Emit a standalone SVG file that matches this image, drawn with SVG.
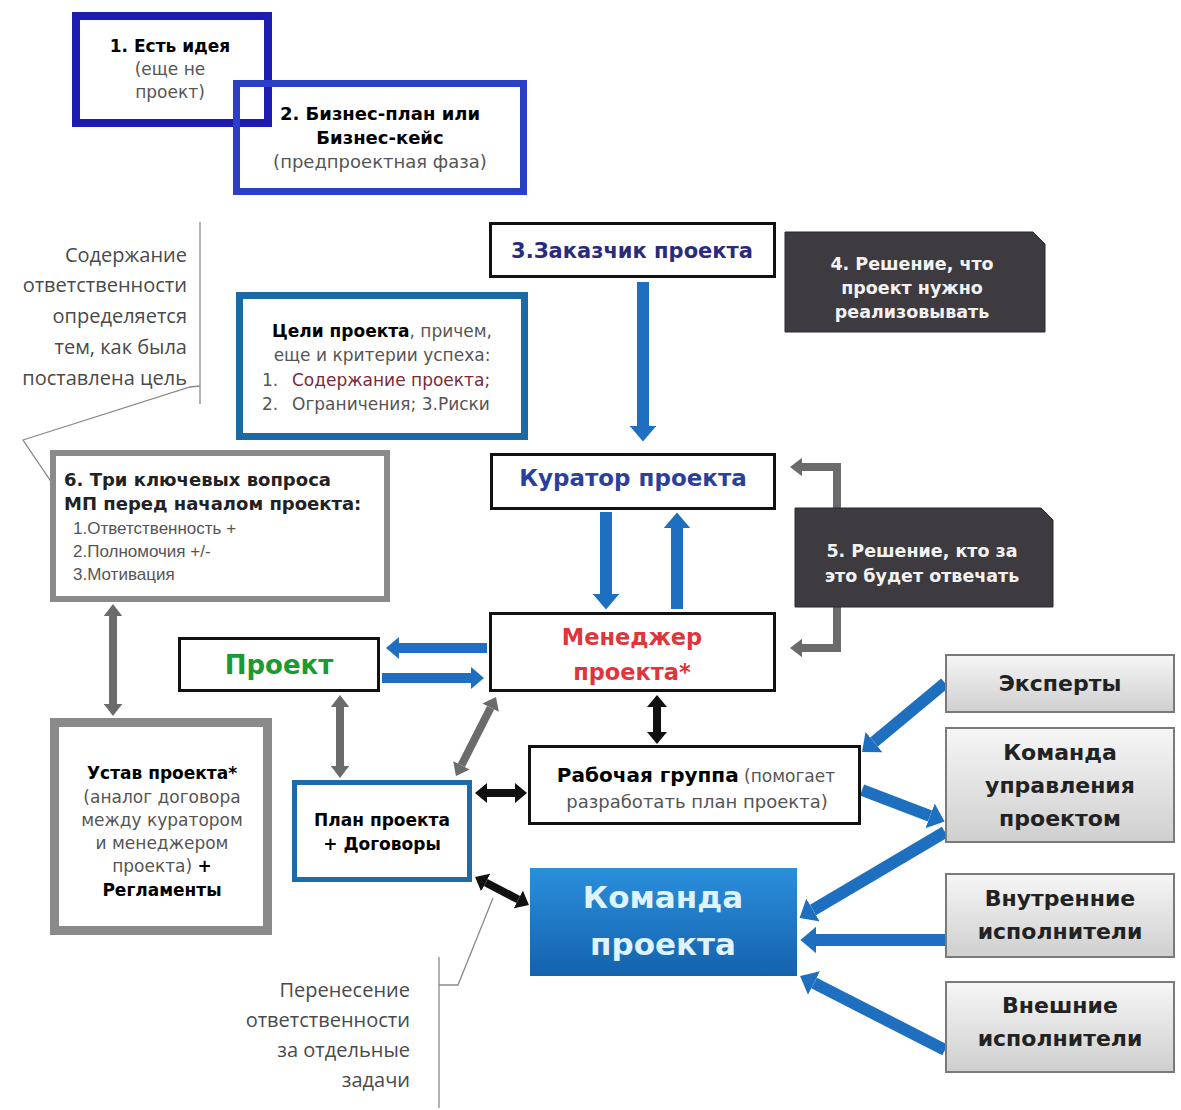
<svg xmlns="http://www.w3.org/2000/svg" width="1181" height="1110" viewBox="0 0 1181 1110">
<style>
text{font-family:"DejaVu Sans","Liberation Sans",Arial,sans-serif;text-anchor:middle}
.l{text-anchor:start}
.b{font-weight:bold}
.g{fill:#555}
.nar{font-family:"Liberation Sans",Arial,sans-serif}
.note{font-family:"Open Sans","Liberation Sans",sans-serif;fill:#4a4a4a;font-size:20px;text-anchor:end}
.box{fill:#fff;stroke:#111;stroke-width:3}
.dark{fill:#3d3b3f;stroke:#2a292c;stroke-width:1}
.dt{fill:#f2f2f2;font-weight:bold;font-size:17.5px}
.side{fill:url(#gg);stroke:#7a7a7a;stroke-width:2}
.st{font-weight:bold;font-size:22px;fill:#222}
.ba{fill:none;stroke:#1e6fbf;stroke-width:12;marker-end:url(#hb)}
.bt{fill:none;stroke:#1e6fbf;stroke-width:10;marker-end:url(#hb)}
.ga{fill:none;stroke:#6b6b6b;stroke-width:8;marker-end:url(#hg);marker-start:url(#hg)}
.ge{fill:none;stroke:#6b6b6b;stroke-width:8;marker-end:url(#hg)}
.ka{fill:none;stroke:#111;stroke-width:8;marker-end:url(#hk);marker-start:url(#hk)}
.cl{fill:none;stroke:#8a8a8a;stroke-width:1.3}
</style>
<defs>
<linearGradient id="gg" x1="0" y1="0" x2="0" y2="1"><stop offset="0" stop-color="#f6f6f6"/><stop offset="1" stop-color="#cfcfcf"/></linearGradient>
<linearGradient id="bg" x1="0" y1="0" x2="0" y2="1"><stop offset="0" stop-color="#2b8fdc"/><stop offset="1" stop-color="#1462ad"/></linearGradient>
<marker id="hb" viewBox="0 0 6 10" refX="0" refY="5" markerWidth="1.3" markerHeight="2.2" preserveAspectRatio="none" orient="auto-start-reverse"><path d="M0,0 L6,5 L0,10 Z" fill="#1e6fbf"/></marker>
<marker id="hg" viewBox="0 0 6 10" refX="0" refY="5" markerWidth="1.5" markerHeight="2.3" preserveAspectRatio="none" orient="auto-start-reverse"><path d="M0,0 L6,5 L0,10 Z" fill="#6b6b6b"/></marker>
<marker id="hk" viewBox="0 0 6 10" refX="0" refY="5" markerWidth="1.5" markerHeight="2.5" preserveAspectRatio="none" orient="auto-start-reverse"><path d="M0,0 L6,5 L0,10 Z" fill="#111"/></marker>
</defs>
<rect width="1181" height="1110" fill="#fff"/>

<g id="connectors">
<line class="ba" x1="643" y1="282" x2="643" y2="426"/>
<line class="ba" x1="606" y1="512" x2="606" y2="594"/>
<line class="ba" x1="677" y1="609" x2="677" y2="528"/>
<line class="bt" x1="487" y1="648" x2="399" y2="648"/>
<line class="bt" x1="382" y1="678" x2="471" y2="678"/>
<line class="ba" x1="945" y1="683" x2="874" y2="742"/>
<line class="ba" x1="862" y1="790" x2="930" y2="816"/>
<line class="ba" x1="945" y1="832" x2="813" y2="910"/>
<line class="ba" x1="945" y1="940" x2="816" y2="940"/>
<line class="ba" x1="945" y1="1050" x2="814" y2="983"/>
<line class="ga" x1="113" y1="616" x2="113" y2="704"/>
<line class="ga" x1="340" y1="707" x2="340" y2="766"/>
<line class="ga" x1="490.6" y1="707.7" x2="461.4" y2="765.3"/>
<polyline class="ge" points="837,508 837,467 802,467"/>
<polyline class="ge" points="837,607 837,648 802,648"/>
<line class="ka" x1="657" y1="707" x2="657" y2="732"/>
<line class="ka" x1="487" y1="793" x2="515" y2="793"/>
<line class="ka" x1="485.7" y1="882.5" x2="518.3" y2="899.5"/>
<line class="cl" x1="200" y1="222" x2="200" y2="404"/>
<polyline class="cl" points="200,386 190,387 23,440 77,520"/>
<line class="cl" x1="439" y1="957" x2="439" y2="1108"/>
<polyline class="cl" points="439,985 458,985 493,898"/>
</g>

<g id="idea">
<rect x="76" y="16" width="192" height="107" fill="#fff" stroke="#1c1cb0" stroke-width="8"/>
<text x="170" y="52" class="b" font-size="17">1. Есть идея</text>
<text x="170" y="75" class="g" font-size="17">(еще не</text>
<text x="170" y="98" class="g" font-size="17">проект)</text>
</g>
<g id="bizplan">
<rect x="236.5" y="83.5" width="287" height="108" fill="none" stroke="#2a3fc8" stroke-width="7"/>
<text x="380" y="120" class="b" font-size="18">2. Бизнес-план или</text>
<text x="380" y="144" class="b" font-size="18">Бизнес-кейс</text>
<text x="380" y="168" class="g" font-size="18">(предпроектная фаза)</text>
</g>
<g id="customer">
<rect class="box" x="490.5" y="223.5" width="284" height="53"/>
<text x="632" y="258" class="b" font-size="21" fill="#2b2b7c">3.Заказчик проекта</text>
</g>
<g id="decision4">
<path class="dark" d="M785,232 H1033 L1045,244 V332 H785 Z"/>
<text x="912" y="270" class="dt">4. Решение, что</text>
<text x="912" y="294" class="dt">проект нужно</text>
<text x="912" y="318" class="dt">реализовывать</text>
</g>
<g id="note-top">
<text x="187" y="262" class="note">Содержание</text>
<text x="187" y="292" class="note">ответственности</text>
<text x="187" y="323" class="note">определяется</text>
<text x="187" y="354" class="note">тем, как была</text>
<text x="187" y="385" class="note">поставлена цель</text>
</g>
<g id="goals">
<rect x="239.5" y="295.5" width="285" height="141" fill="#fff" stroke="#1a6aa5" stroke-width="7"/>
<text x="382" y="337" font-size="17"><tspan class="b">Цели проекта</tspan><tspan fill="#555">, причем,</tspan></text>
<text x="382" y="361" font-size="17" fill="#555">еще и критерии успеха:</text>
<text x="262" y="386" font-size="17" fill="#555" class="l">1.</text>
<text x="292" y="386" font-size="17" fill="#7a2a3a" class="l">Содержание проекта;</text>
<text x="262" y="410" font-size="17" fill="#555" class="l">2.</text>
<text x="292" y="410" font-size="17" fill="#555" class="l">Ограничения; 3.Риски</text>
</g>
<g id="curator">
<rect class="box" x="491.5" y="454.5" width="283" height="54"/>
<text x="633" y="486" class="b" font-size="23" fill="#2a3f9e">Куратор проекта</text>
</g>
<g id="decision5">
<path class="dark" d="M795,508 H1041 L1053,520 V607 H795 Z"/>
<text x="922" y="557" class="dt" font-size="19">5. Решение, кто за</text>
<text x="922" y="582" class="dt" font-size="19">это будет отвечать</text>
</g>
<g id="questions">
<rect x="53" y="453" width="334" height="146" fill="#fff" stroke="#8a8a8a" stroke-width="6"/>
<text x="64" y="486" class="b l" font-size="18" fill="#222">6. Три ключевых вопроса</text>
<text x="64" y="510" class="b l" font-size="18" fill="#222">МП перед началом проекта:</text>
<text x="73" y="534" font-size="17" class="l nar" fill="#555">1.Ответственность +</text>
<text x="73" y="557" font-size="17" class="l nar" fill="#555">2.Полномочия +/-</text>
<text x="73" y="580" font-size="17" class="l nar" fill="#555">3.Мотивация</text>
</g>
<g id="manager">
<rect class="box" x="490.5" y="613.5" width="284" height="77"/>
<text x="632" y="645" class="b" font-size="22.5" fill="#e0353a">Менеджер</text>
<text x="632" y="680" class="b" font-size="22.5" fill="#e0353a">проекта*</text>
</g>
<g id="project">
<rect class="box" x="179.5" y="638.5" width="199" height="52"/>
<text x="279" y="674" class="b" font-size="26" fill="#1a9a30">Проект</text>
</g>
<g id="charter">
<rect x="54.5" y="722.5" width="213" height="208" fill="#fff" stroke="#8a8a8a" stroke-width="9"/>
<text x="162" y="779" class="b" font-size="17">Устав проекта*</text>
<text x="162" y="803" class="g" font-size="17">(аналог договора</text>
<text x="162" y="826" class="g" font-size="17">между куратором</text>
<text x="162" y="849" class="g" font-size="17">и менеджером</text>
<text x="162" y="872" font-size="17"><tspan fill="#555">проекта) </tspan><tspan class="b">+</tspan></text>
<text x="162" y="896" class="b" font-size="17">Регламенты</text>
</g>
<g id="workgroup">
<rect class="box" x="529.5" y="746.5" width="330" height="77"/>
<text x="696" y="782"><tspan class="b" font-size="20">Рабочая группа</tspan><tspan font-size="17" fill="#555"> (помогает</tspan></text>
<text x="697" y="808" font-size="18" fill="#555">разработать план проекта)</text>
</g>
<g id="plan">
<rect x="294.5" y="782.5" width="175" height="97" fill="#fff" stroke="#1f6aa8" stroke-width="5"/>
<text x="382" y="826" class="b" font-size="17">План проекта</text>
<text x="382" y="850" class="b" font-size="17">+ Договоры</text>
</g>
<g id="team">
<rect x="530" y="868" width="267" height="108" fill="url(#bg)"/>
<text x="663" y="908" class="b" font-size="31" fill="#dff3ff">Команда</text>
<text x="663" y="955" class="b" font-size="31" fill="#dff3ff">проекта</text>
</g>
<g id="experts">
<rect class="side" x="946" y="655" width="228" height="57"/>
<text x="1060" y="691" class="st">Эксперты</text>
</g>
<g id="mgmt-team">
<rect class="side" x="946" y="728" width="228" height="114"/>
<text x="1060" y="760" class="st">Команда</text>
<text x="1060" y="793" class="st">управления</text>
<text x="1060" y="826" class="st">проектом</text>
</g>
<g id="internal">
<rect class="side" x="946" y="874" width="228" height="83"/>
<text x="1060" y="906" class="st">Внутренние</text>
<text x="1060" y="939" class="st">исполнители</text>
</g>
<g id="external">
<rect class="side" x="946" y="982" width="228" height="90"/>
<text x="1060" y="1013" class="st">Внешние</text>
<text x="1060" y="1046" class="st">исполнители</text>
</g>
<g id="note-bottom">
<text x="410" y="997" class="note">Перенесение</text>
<text x="410" y="1027" class="note">ответственности</text>
<text x="410" y="1057" class="note">за отдельные</text>
<text x="410" y="1087" class="note">задачи</text>
</g>
</svg>
